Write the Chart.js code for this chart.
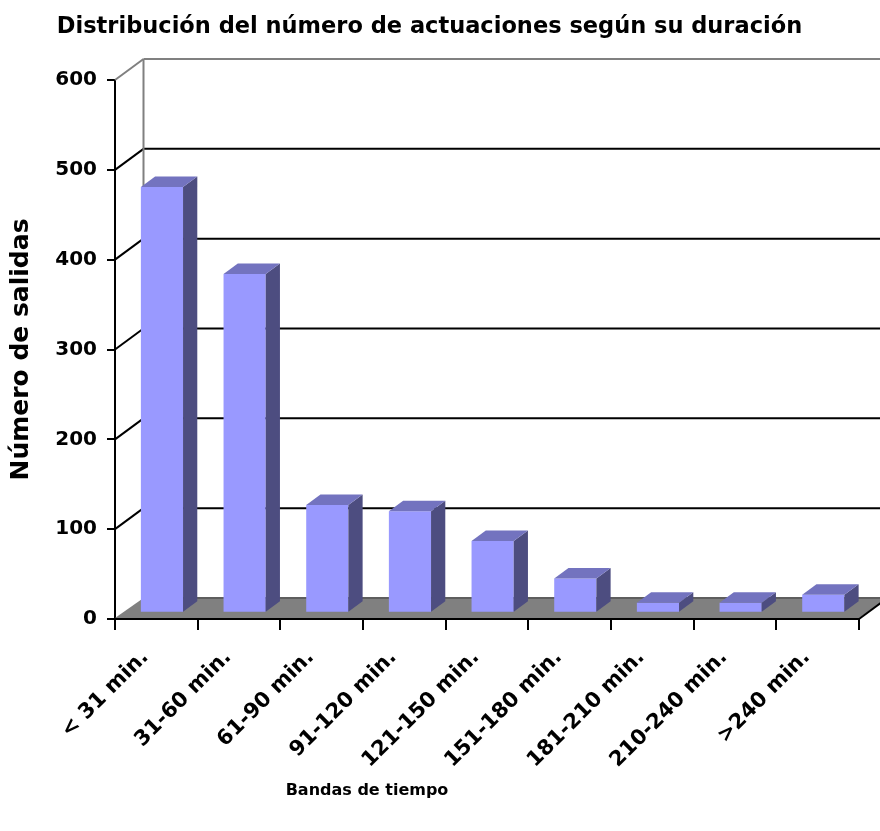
<!DOCTYPE html>
<html><head><meta charset="utf-8">
<script src="https://cdn.jsdelivr.net/npm/chart.js@4.4.1/dist/chart.umd.min.js"></script>
<style>html,body{margin:0;padding:0;background:#fff;} #wrap{width:880px;height:831px;position:relative;}</style>
</head><body><div id="wrap"><canvas id="c" width="880" height="831"></canvas></div>
<script>
// ---- data ----
const categories = ['< 31 min.', '31-60 min.', '61-90 min.', '91-120 min.', '121-150 min.', '151-180 min.', '181-210 min.', '210-240 min.', '>240 min.'];
const salidas = [474, 377, 120, 113, 80, 38, 11, 11, 20];
const yTicks = [0, 100, 200, 300, 400, 500, 600];
const chartTitle = 'Distribución del número de actuaciones según su duración';
const yTitle = 'Número de salidas';
const xTitle = 'Bandas de tiempo';

// ---- style ----
const FONT = 'DejaVu Sans';
const depth = { dx: 28.5, dy: -21 };
const barFront = 0.25, barBack = 0.75;
const colFront = '#9999FF', colTop = '#7373BF', colSide = '#4D4D80';

function line(ctx, x1, y1, x2, y2) { ctx.beginPath(); ctx.moveTo(x1, y1); ctx.lineTo(x2, y2); ctx.stroke(); }

const wall3d = {
  id: 'wall3d',
  beforeDatasetsDraw(chart) {
    const { ctx, chartArea: a, scales: { y } } = chart;
    const dx = depth.dx, dy = depth.dy;
    const yb = y.getPixelForValue(0);
    ctx.save();
    ctx.lineCap = 'butt';
    // back wall grid lines + diagonals
    yTicks.forEach(v => {
      if (v === 0) return;
      const py = y.getPixelForValue(v);
      ctx.strokeStyle = v === yTicks[yTicks.length - 1] ? '#808080' : '#000';
      ctx.lineWidth = 2;
      line(ctx, a.left + dx, py + dy, a.right + dx, py + dy);
      line(ctx, a.left, py, a.left + dx, py + dy);
    });
    // left wall edge
    ctx.strokeStyle = '#808080'; ctx.lineWidth = 2;
    line(ctx, a.left + dx, y.getPixelForValue(yTicks[yTicks.length - 1]) + dy, a.left + dx, yb + dy);
    // floor
    ctx.fillStyle = '#808080';
    ctx.beginPath();
    ctx.moveTo(a.left, yb - 1); ctx.lineTo(a.right, yb - 1);
    ctx.lineTo(a.right + dx, yb + dy); ctx.lineTo(a.left + dx, yb + dy);
    ctx.closePath(); ctx.fill();
    ctx.strokeStyle = '#5E5E5E'; ctx.lineWidth = 2;
    line(ctx, a.left + dx, yb + dy, a.right + dx, yb + dy);
    ctx.strokeStyle = '#000'; ctx.lineWidth = 2;
    line(ctx, a.right, yb, a.right + dx, yb + dy);
    ctx.restore();
    ctx.save();
    ctx.translate(dx * barFront - 1.5, dy * barFront - 1);
  },
  afterDatasetsDraw(chart) {
    const { ctx } = chart;
    ctx.restore();
    const fx = depth.dx * barFront - 1.5, fy = depth.dy * barFront - 1;
    const ddx = depth.dx * (barBack - barFront), ddy = depth.dy * (barBack - barFront);
    const meta = chart.getDatasetMeta(0);
    ctx.save();
    meta.data.forEach(bar => {
      const { x, y, base, width } = bar.getProps(['x', 'y', 'base', 'width'], true);
      const L = x - width / 2 + fx, R = x + width / 2 + fx, T = y + fy, B = base + fy;
      ctx.fillStyle = colSide;
      ctx.beginPath();
      ctx.moveTo(R, T); ctx.lineTo(R + ddx, T + ddy); ctx.lineTo(R + ddx, B + ddy); ctx.lineTo(R, B);
      ctx.closePath(); ctx.fill();
      ctx.fillStyle = colTop;
      ctx.beginPath();
      ctx.moveTo(L, T); ctx.lineTo(R, T); ctx.lineTo(R + ddx, T + ddy); ctx.lineTo(L + ddx, T + ddy);
      ctx.closePath(); ctx.fill();
    });
    ctx.restore();
  },
  afterDraw(chart) {
    const { ctx } = chart;
    ctx.save();
    ctx.fillStyle = '#000';
    ctx.font = 'bold 16px "' + FONT + '"';
    ctx.textAlign = 'center';
    ctx.textBaseline = 'middle';
    ctx.fillText(xTitle, 367, 791);
    ctx.restore();
  }
};

new Chart(document.getElementById('c'), {
  type: 'bar',
  data: {
    labels: categories,
    datasets: [{
      label: yTitle,
      data: salidas,
      backgroundColor: colFront,
      borderWidth: 0,
      categoryPercentage: 1,
      barPercentage: 0.51
    }]
  },
  options: {
    responsive: false,
    animation: false,
    events: [],
    layout: { padding: { left: 0, right: 21, top: 0, bottom: 0 } },
    plugins: {
      legend: { display: false },
      tooltip: { enabled: false },
      title: {
        display: true,
        text: chartTitle,
        color: '#000',
        font: { family: FONT, size: 22.5, weight: 'bold', lineHeight: 1.2 },
        padding: { top: 14, bottom: 39 }
      }
    },
    scales: {
      x: {
        grid: { offset: true, drawOnChartArea: false, drawTicks: true, tickLength: 11, color: '#000', lineWidth: 2 },
        border: { display: true, color: '#000', width: 2 },
        ticks: {
          color: '#000', autoSkip: false, maxRotation: 45, minRotation: 45, padding: 15, labelOffset: -11,
          font: { family: FONT, size: 21, weight: 'bold' }
        },
        afterFit(scale) { scale.height = 212; }
      },
      y: {
        min: 0, max: 600,
        grid: { drawOnChartArea: false, drawTicks: true, tickLength: 8, color: '#000', lineWidth: 2 },
        border: { display: true, color: '#000', width: 2 },
        ticks: {
          color: '#000', stepSize: 100, padding: 10,
          font: { family: FONT, size: 20, weight: 'bold' }
        },
        title: {
          display: true, text: yTitle, color: '#000',
          font: { family: FONT, size: 25, weight: 'bold', lineHeight: 1.2 },
          padding: { top: 6, bottom: 0 }
        },
        afterFit(scale) { scale.width = 115; }
      }
    }
  },
  plugins: [wall3d]
});
</script>
</body></html>
